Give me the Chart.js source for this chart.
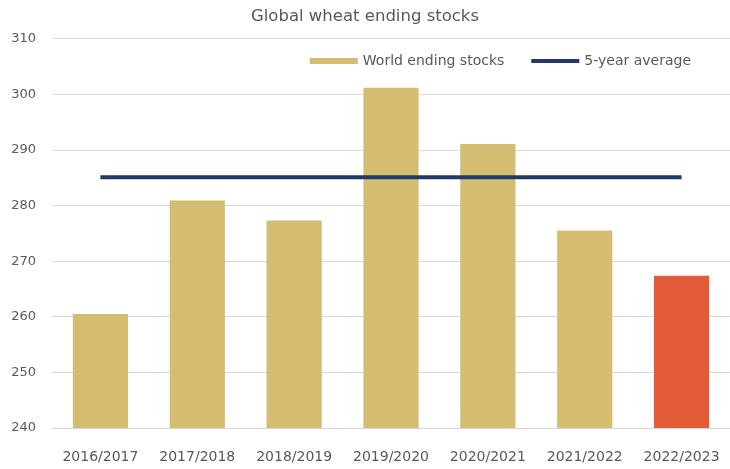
<!DOCTYPE html>
<html>
<head>
<meta charset="utf-8">
<title>Global wheat ending stocks</title>
<script src="https://cdn.jsdelivr.net/npm/chart.js@4.4.1/dist/chart.umd.min.js"></script>
<style>
  html, body { margin: 0; padding: 0; background: #fff; }
  #wrap { position: relative; width: 730px; height: 469px; }
</style>
</head>
<body>
<div id="wrap"><canvas id="stocksChart"></canvas></div>
<script>
// Marketing years and ending stocks (million tonnes)
const seasons = ['2016/2017', '2017/2018', '2018/2019', '2019/2020', '2020/2021', '2021/2022', '2022/2023'];
const endingStocks = [260.5, 280.9, 277.3, 301.2, 291.1, 275.5, 267.4];
const fiveYearAvg = [285.1, 285.1, 285.1, 285.1, 285.1, 285.1, 285.1];
const yTicks = { min: 240, max: 310, step: 10 };

const GOLD = '#d4bd70';
const RED = '#e25a38';
const NAVY = '#1f3a64';
const TEXT = '#595959';
const FONT = "'DejaVu Sans', sans-serif";

// last season is the current estimate, shown in red
const barColors = seasons.map((s, i) => i === seasons.length - 1 ? RED : GOLD);

// legend drawn inside the plot, right side, under the top gridline
const insideLegend = {
  id: 'insideLegend',
  afterDraw(chart) {
    const ctx = chart.ctx;
    const right = 691, y = 61, swatchW = 48, gap = 5, itemGap = 27;
    ctx.save();
    ctx.font = '14px ' + FONT;
    ctx.textBaseline = 'middle';
    ctx.textAlign = 'left';
    const items = chart.data.datasets.map(ds => ({
      text: ds.label,
      type: ds.type,
      color: ds.type === 'line' ? ds.borderColor : GOLD,
      w: ctx.measureText(ds.label).width
    }));
    let total = items.reduce((a, it) => a + swatchW + gap + it.w, 0) + itemGap * (items.length - 1);
    let x = right - total;
    items.forEach(it => {
      if (it.type === 'line') {
        ctx.strokeStyle = it.color;
        ctx.lineWidth = 4;
        ctx.beginPath();
        ctx.moveTo(x, y);
        ctx.lineTo(x + swatchW, y);
        ctx.stroke();
      } else {
        ctx.fillStyle = it.color;
        ctx.fillRect(x, y - 3, swatchW, 6);
      }
      x += swatchW + gap;
      ctx.fillStyle = TEXT;
      ctx.fillText(it.text, x, y);
      x += it.w + itemGap;
    });
    ctx.restore();
  }
};

new Chart(document.getElementById('stocksChart'), {
  data: {
    labels: seasons,
    datasets: [
      {
        type: 'bar',
        label: 'World ending stocks',
        data: endingStocks,
        backgroundColor: barColors,
        categoryPercentage: 1,
        barPercentage: 0.57,
        order: 1
      },
      {
        type: 'line',
        label: '5-year average',
        data: fiveYearAvg,
        borderColor: NAVY,
        borderWidth: 4,
        pointRadius: 0,
        fill: false,
        order: 0
      }
    ]
  },
  options: {
    responsive: true,
    maintainAspectRatio: false,
    animation: false,
    layout: { padding: { left: 0, right: 0, top: 0, bottom: 0 } },
    plugins: {
      legend: { display: false },
      tooltip: { enabled: false },
      title: {
        display: true,
        text: 'Global wheat ending stocks',
        color: TEXT,
        font: { family: FONT, size: 16.5, weight: 'normal' },
        padding: { top: 7, bottom: 12 }
      }
    },
    scales: {
      x: {
        grid: { display: false },
        border: { display: false },
        ticks: {
          color: TEXT,
          font: { family: FONT, size: 14 },
          padding: 13,
          maxRotation: 0,
          autoSkip: false
        },
        afterFit(scale) {
          // let the last label overhang so the plot runs to the right edge
          scale.height = 41;
          scale.paddingLeft = 0;
          scale.paddingRight = 0;
        }
      },
      y: {
        min: yTicks.min,
        max: yTicks.max,
        grid: { color: '#d9d9d9', lineWidth: 1, drawTicks: false },
        border: { display: false },
        ticks: {
          stepSize: yTicks.step,
          color: TEXT,
          font: { family: FONT, size: 13 },
          padding: 16
        },
        afterFit(scale) { scale.width = 52; }
      }
    }
  },
  plugins: [insideLegend]
});
</script>
</body>
</html>
